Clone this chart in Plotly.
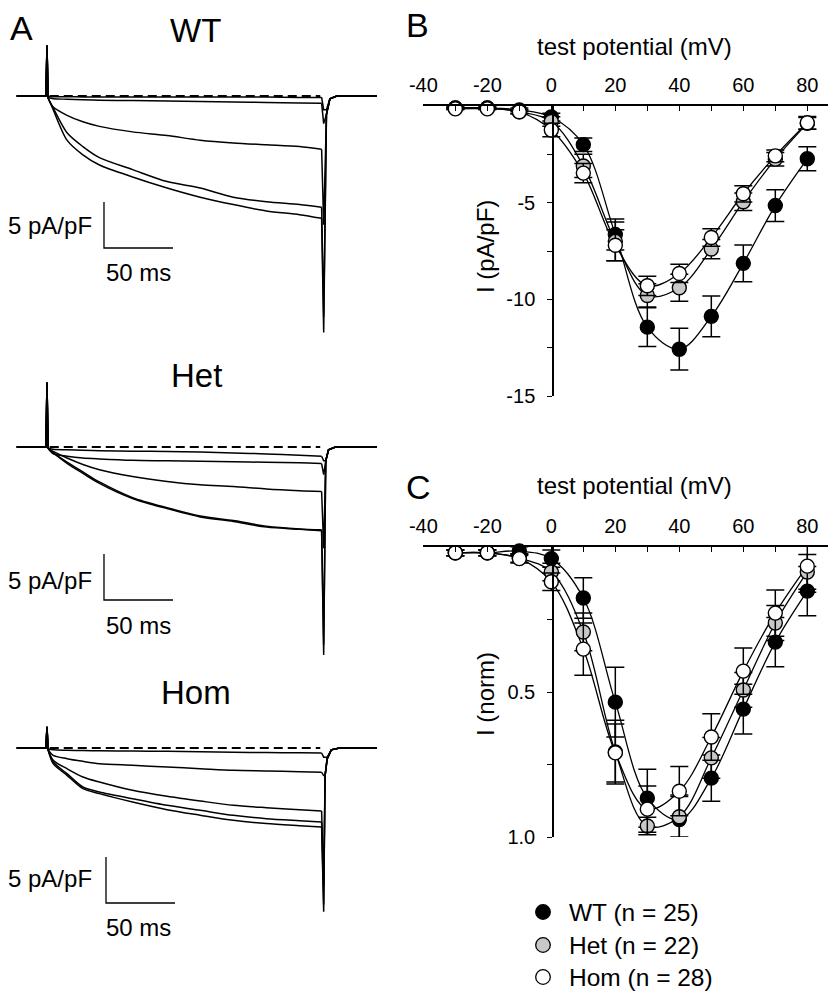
import plotly.graph_objects as go

W, H = 831, 992
FONT = "Liberation Sans, Arial, Helvetica, sans-serif"

# ---------------- Panel A data (current traces, pA/pF vs ms) ----------------
T_PULSE = [1, 4.5, 14.5, 26, 38, 62, 87, 111, 135, 159, 183, 199]

WT_TRACES = [
    [-0.05, -0.08, -0.08, -0.1, -0.1, -0.1, -0.1, -0.12, -0.12, -0.12, -0.15, -0.15],
    [-0.2, -0.3, -0.35, -0.4, -0.45, -0.5, -0.55, -0.6, -0.65, -0.7, -0.75, -0.8],
    [-0.3, -1.2, -2.1, -2.8, -3.3, -3.9, -4.3, -4.8, -5.1, -5.3, -5.5, -5.8],
    [-0.3, -1.3, -4.0, -5.5, -6.7, -8.0, -9.3, -10.0, -11.0, -11.5, -11.8, -12.1],
    [-0.3, -1.5, -4.8, -6.4, -7.5, -8.8, -10.0, -11.0, -11.8, -12.5, -12.9, -13.3],
]
HET_TRACES = [
    [-0.1, -0.25, -0.3, -0.35, -0.4, -0.45, -0.48, -0.55, -0.65, -0.75, -0.9, -1.0],
    [-0.2, -0.73, -1.0, -1.2, -1.3, -1.45, -1.5, -1.56, -1.6, -1.67, -1.72, -1.8],
    [-0.2, -0.48, -1.2, -1.9, -2.47, -3.2, -3.74, -4.1, -4.28, -4.57, -4.75, -4.83],
    [-0.2, -0.6, -1.65, -2.7, -3.8, -5.5, -6.6, -7.5, -8.0, -8.6, -8.9, -9.0],
    [-0.2, -0.65, -1.77, -2.86, -3.95, -5.6, -6.7, -7.6, -8.1, -8.7, -8.95, -9.1],
]
HOM_TRACES = [
    [-0.1, -0.2, -0.25, -0.28, -0.3, -0.33, -0.36, -0.4, -0.45, -0.5, -0.52, -0.54],
    [-0.2, -0.8, -1.16, -1.45, -1.7, -1.88, -2.07, -2.25, -2.43, -2.5, -2.58, -2.64],
    [-0.3, -1.34, -2.25, -3.15, -3.7, -4.6, -5.25, -5.76, -6.23, -6.49, -6.7, -6.85],
    [-0.3, -1.52, -2.79, -4.24, -4.78, -5.51, -6.23, -6.77, -7.32, -7.68, -7.9, -8.04],
    [-0.3, -1.7, -2.97, -4.42, -4.96, -5.87, -6.7, -7.3, -7.86, -8.22, -8.45, -8.59],
]
SPIKE_PEAK = {"WT": 5.5, "Het": 7.0, "Hom": 2.3}
TAIL_MIN = {
    "WT": [-1.5, -3.0, -14.0, -24.0, -25.7],
    "Het": [-1.5, -3.0, -11.0, -21.5, -22.6],
    "Hom": [-1.0, -3.0, -15.0, -17.0, -17.8],
}
PRE_T = [-22, -0.8, 0, 0.8]
TAIL_T = {"WT": [200.5, 202.5, 205, 210, 239],
          "Het": [200.5, 202, 204, 209, 239],
          "Hom": [200.5, 201.5, 203, 206, 212, 239]}
TAIL_RETURN = {"WT": [None, -2.0, -0.3, 0.0, 0.0],
               "Het": [None, -1.5, -0.3, 0.0, 0.0],
               "Hom": [None, -3.0, -1.2, -0.2, 0.0, 0.0]}

# ---------------- Panels B & C data ----------------
V = [-30, -20, -10, 0, 10, 20, 30, 40, 50, 60, 70, 80]
B_WT = [-0.1, -0.1, -0.2, -0.57, -2.0, -6.65, -11.44, -12.58, -10.88, -8.14, -5.15, -2.73]
B_WT_ERR = [0.05, 0.05, 0.1, 0.2, 0.35, 0.8, 1.0, 1.08, 1.05, 0.95, 0.82, 0.62]
B_HET = [-0.1, -0.1, -0.3, -0.8, -3.1, -7.0, -9.8, -9.4, -7.4, -4.95, -2.75, -0.9]
B_HET_ERR = [0.05, 0.05, 0.1, 0.25, 0.6, 1.0, 0.6, 0.7, 0.5, 0.45, 0.35, 0.3]
B_HOM = [-0.15, -0.15, -0.3, -1.24, -3.47, -7.2, -9.3, -8.66, -6.8, -4.54, -2.58, -0.87]
B_HOM_ERR = [0.05, 0.05, 0.1, 0.35, 0.5, 0.8, 0.5, 0.47, 0.45, 0.42, 0.3, 0.33]

C_WT = [0.02, 0.02, 0.014, 0.04, 0.176, 0.535, 0.866, 0.94, 0.797, 0.559, 0.328, 0.152]
C_WT_ERR = [0.01, 0.01, 0.015, 0.03, 0.07, 0.12, 0.10, 0.085, 0.08, 0.086, 0.085, 0.085]
C_HET = [0.02, 0.02, 0.038, 0.086, 0.293, 0.707, 0.962, 0.93, 0.727, 0.493, 0.262, 0.086]
C_HET_ERR = [0.01, 0.01, 0.015, 0.03, 0.065, 0.11, 0.03, 0.07, 0.07, 0.06, 0.06, 0.06]
C_HOM = [0.02, 0.02, 0.04, 0.12, 0.352, 0.71, 0.904, 0.842, 0.655, 0.428, 0.228, 0.066]
C_HOM_ERR = [0.01, 0.01, 0.015, 0.03, 0.09, 0.1, 0.08, 0.085, 0.08, 0.08, 0.08, 0.09]

GROUPS = ["WT (n = 25)", "Het (n = 22)", "Hom (n = 28)"]
FILLS = ["#000000", "#c8c8c8", "#ffffff"]
X_TICKS = [-40, -30, -20, -10, 0, 10, 20, 30, 40, 50, 60, 70, 80]
X_TICKTEXT = ["-40", "", "-20", "", "0", "", "20", "", "40", "", "60", "", "80"]
B_YTICKS = [-2.5, -5, -7.5, -10, -12.5, -15]
B_YTICKTEXT = ["", "-5", "", "-10", "", "-15"]
C_YTICKS = [0.25, 0.5, 0.75, 1.0]
C_YTICKTEXT = ["", "0.5", "", "1.0"]


def px(x):
    return x / W


def py(y):
    return 1 - y / H


fig = go.Figure()
LW = 1.5

# ---------------- Panel A axes ----------------
X0_PX, X_SCALE = 47.0, 1.38     # px of t=0, px per ms
Y_SCALE = 9.2                   # px per pA/pF
blocks = [
    ("WT", WT_TRACES, 96.0, 0, 340, "x", "y"),
    ("Het", HET_TRACES, 447.0, 330, 660, "x2", "y2"),
    ("Hom", HOM_TRACES, 748.0, 660, 992, "x3", "y3"),
]
axis_common = dict(visible=False, showgrid=False, zeroline=False, fixedrange=True, automargin=False)
for i, (name, traces, base, top, bot, xr, yr) in enumerate(blocks):
    sfx = "" if i == 0 else str(i + 1)
    fig.update_layout(**{
        f"xaxis{sfx}": dict(domain=[0, px(400)],
                            range=[(0 - X0_PX) / X_SCALE, (400 - X0_PX) / X_SCALE],
                            anchor=yr, **axis_common),
        f"yaxis{sfx}": dict(domain=[py(bot), py(top)],
                            range=[(base - bot) / Y_SCALE, (base - top) / Y_SCALE],
                            anchor=xr, **axis_common),
    })
    for k, vals in enumerate(traces):
        # pre-pulse and capacitive spike
        fig.add_trace(go.Scatter(x=PRE_T, y=[0, 0, SPIKE_PEAK[name], vals[0]], mode="lines",
                                 line=dict(color="black", width=LW), xaxis=xr, yaxis=yr,
                                 showlegend=False, hoverinfo="skip"))
        # test pulse current
        fig.add_trace(go.Scatter(x=T_PULSE, y=vals, mode="lines",
                                 line=dict(color="black", width=LW, shape="spline", smoothing=0.8),
                                 xaxis=xr, yaxis=yr, showlegend=False, hoverinfo="skip"))
        # tail current
        tmin = TAIL_MIN[name][k]
        ret = [tmin if v is None else max(v, tmin) for v in TAIL_RETURN[name]]
        fig.add_trace(go.Scatter(x=[T_PULSE[-1]] + TAIL_T[name], y=[vals[-1]] + ret, mode="lines",
                                 line=dict(color="black", width=LW), xaxis=xr, yaxis=yr,
                                 showlegend=False, hoverinfo="skip"))
    # dashed zero line
    fig.add_trace(go.Scatter(x=[2, 198], y=[0, 0], mode="lines",
                             line=dict(color="black", width=2, dash="9px,5px"),
                             xaxis=xr, yaxis=yr, showlegend=False, hoverinfo="skip"))

# scale bars (t0 ms, I top) per block
SCALEBARS = [("x", "y", 41.3, -11.52), ("x2", "y2", 41.3, -11.63), ("x3", "y3", 42.75, -11.85)]
for xr, yr, t0, itop in SCALEBARS:
    fig.add_trace(go.Scatter(x=[t0, t0, t0 + 50], y=[itop, itop - 5, itop - 5], mode="lines",
                             line=dict(color="black", width=1.3), xaxis=xr, yaxis=yr,
                             showlegend=False, hoverinfo="skip"))

# ---------------- Panels B and C ----------------
XB_LEFT, XB_RIGHT = 422.7, 828.1
xrange_bc = [-40.2, 86.5]
xcommon = dict(side="top", showline=True, linecolor="black", linewidth=1.5, ticks="inside",
               ticklen=5, tickwidth=1.3, tickcolor="black", tickvals=X_TICKS, ticktext=X_TICKTEXT,
               tickfont=dict(size=20, color="black", family=FONT), showgrid=False,
               zeroline=False, ticklabelstandoff=4, automargin=False, fixedrange=True)
ycommon = dict(anchor="free", position=px(553), showline=True, linecolor="black", linewidth=1.5,
               ticks="outside", ticklen=5, tickwidth=1.3, tickcolor="black",
               tickfont=dict(size=20, color="black", family=FONT), showgrid=False,
               zeroline=False, ticklabelstandoff=8, automargin=False, fixedrange=True)
fig.update_layout(
    xaxis4=dict(domain=[px(XB_LEFT), px(XB_RIGHT)], range=xrange_bc, anchor="y4", **xcommon),
    yaxis4=dict(domain=[py(396), py(106)], range=[-15, 0], tickvals=B_YTICKS,
                ticktext=B_YTICKTEXT, **ycommon),
    xaxis5=dict(domain=[px(XB_LEFT), px(XB_RIGHT)], range=xrange_bc, anchor="y5", **xcommon),
    yaxis5=dict(domain=[py(837), py(547)], range=[1.0, 0], tickvals=C_YTICKS,
                ticktext=C_YTICKTEXT, **ycommon),
)

for xr, yr, series in [("x4", "y4", [(B_WT, B_WT_ERR), (B_HET, B_HET_ERR), (B_HOM, B_HOM_ERR)]),
                       ("x5", "y5", [(C_WT, C_WT_ERR), (C_HET, C_HET_ERR), (C_HOM, C_HOM_ERR)])]:
    for (vals, err), fill, name in zip(series, FILLS, GROUPS):
        fig.add_trace(go.Scatter(x=V, y=vals, mode="lines",
                                 line=dict(color="black", width=1.3, shape="spline", smoothing=1.0),
                                 xaxis=xr, yaxis=yr, showlegend=False, hoverinfo="skip"))
    for (vals, err), fill, name in zip(series, FILLS, GROUPS):
        fig.add_trace(go.Scatter(x=V, y=vals, mode="markers", name=name,
                                 marker=dict(size=14, color=fill, line=dict(color="black", width=1.4)),
                                 error_y=dict(type="data", array=err, visible=True, color="black",
                                              thickness=1.5, width=9),
                                 cliponaxis=False, xaxis=xr, yaxis=yr, showlegend=False))

# ---------------- text ----------------
ann = []


def add_text(text, x, y, size, xanchor="center", yanchor="middle", angle=0):
    ann.append(dict(text=text, x=px(x), y=py(y), xref="paper", yref="paper", showarrow=False,
                    xanchor=xanchor, yanchor=yanchor, textangle=angle,
                    font=dict(size=size, color="black", family=FONT)))


add_text("A", 21, 28, 34)
add_text("WT", 195, 30, 33)
add_text("Het", 196, 375, 33)
add_text("Hom", 196, 692, 33)
for ytxt, yms in [(226, 272), (580, 625), (878, 927)]:
    add_text("5 pA/pF", 94, ytxt, 24, xanchor="right")
    add_text("50 ms", 138, yms, 24)
add_text("B", 417, 25, 34)
add_text("C", 418, 487, 34)
add_text("test potential (mV)", 634, 46, 24)
add_text("test potential (mV)", 634, 485, 24)
add_text("I (pA/pF)", 485, 247, 24, angle=-90)
add_text("I (norm)", 485, 694, 24, angle=-90)

# legend (drawn manually)
shapes = []
LEGEND_Y = [912, 945, 977]
for name, fill, ly in zip(GROUPS, FILLS, LEGEND_Y):
    shapes.append(dict(type="circle", xref="paper", yref="paper", xsizemode="pixel",
                       ysizemode="pixel", xanchor=px(543), yanchor=py(ly),
                       x0=-7.3, x1=7.3, y0=-7.3, y1=7.3,
                       fillcolor=fill, line=dict(color="black", width=1.3)))
    add_text(name, 567, ly, 24.5, xanchor="left")

fig.update_layout(
    annotations=ann, shapes=shapes,
    width=W, height=H, autosize=False,
    margin=dict(l=0, r=0, t=0, b=0, pad=0, autoexpand=False),
    paper_bgcolor="white", plot_bgcolor="rgba(0,0,0,0)",
    font=dict(family=FONT, color="black"),
    showlegend=False,
)

fig.write_html("out.html", config={"displayModeBar": False},
               post_script="document.body.style.margin='0';document.body.style.overflow='hidden';")
